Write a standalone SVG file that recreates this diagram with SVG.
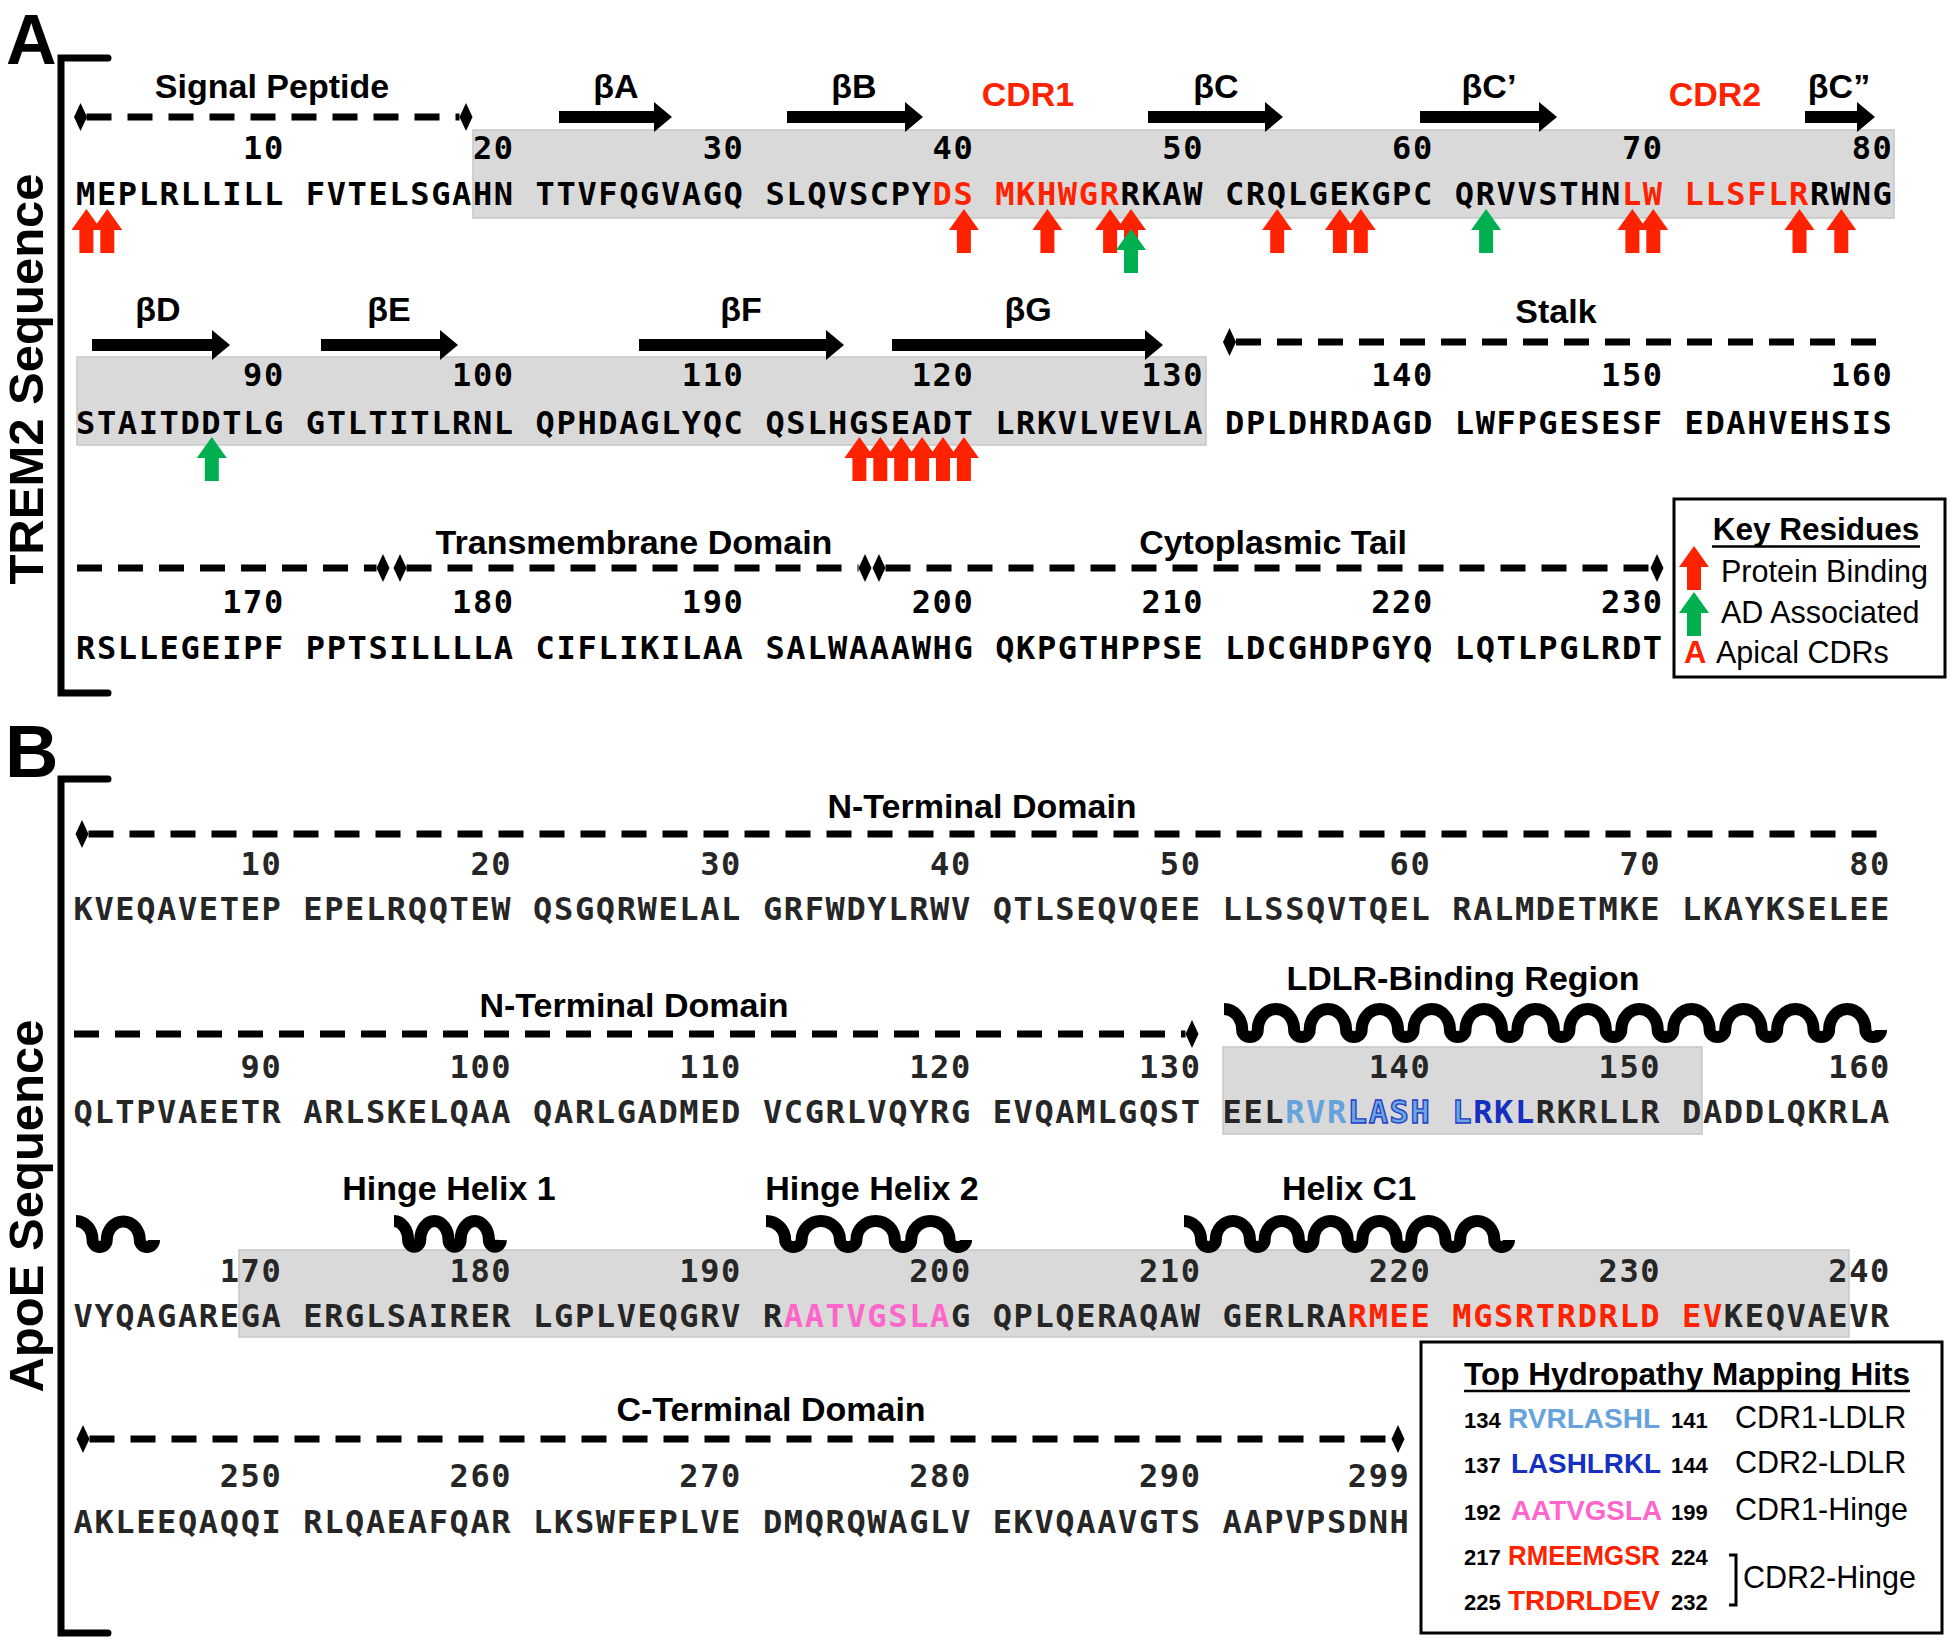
<svg xmlns="http://www.w3.org/2000/svg" xmlns:xlink="http://www.w3.org/1999/xlink" width="1950" height="1642" viewBox="0 0 1950 1642">
<style>
.seq{font-family:'DejaVu Sans Mono',monospace;font-weight:bold;font-size:32px;letter-spacing:1.625px;fill:#000}
.apoe{fill:#262626}
.num{text-anchor:end}
.lbl{font-family:'Liberation Sans',Arial,sans-serif;font-weight:bold;font-size:34px;text-anchor:middle;fill:#000}
.red{fill:#ff2200}
.leg{font-family:'Liberation Sans',Arial,sans-serif;font-size:30.5px;fill:#000}
.hn{font-family:'Liberation Sans',Arial,sans-serif;font-weight:bold;font-size:22px;fill:#000}
.hs{font-family:'Liberation Sans',Arial,sans-serif;font-weight:bold;font-size:28.5px}
.dash{stroke:#000;stroke-width:7;stroke-dasharray:25 16;fill:none}
.wave{fill:none;stroke:#000;stroke-width:12;stroke-linecap:butt;stroke-linejoin:round}
.gbox{fill:#d9d9d9;stroke:#c6c6c6;stroke-width:1.5}
.brk{fill:none;stroke:#000;stroke-width:7;stroke-linecap:round}
.big{font-family:'Liberation Sans',Arial,sans-serif;font-weight:bold}
</style>
<defs>
<path id="up" d="M0,0 L15,21 L7,21 L7,44 L-7,44 L-7,21 L-15,21 Z"/>
<path id="dia" d="M-6.5,0 L0,-14 L6.5,0 L0,14 Z"/>
</defs>
<rect width="1950" height="1642" fill="#fff"/>

<g id="panelA">
<text class="big" x="6" y="64" font-size="70">A</text>
<path class="brk" d="M108,58 L61,58 L61,693 L108,693"/>
<text class="big" font-size="49" text-anchor="middle" transform="translate(43,379) rotate(-90)">TREM2 Sequence</text>

<g id="a-boxes">
<rect class="gbox" x="473" y="130" width="1421" height="88"/>
<rect class="gbox" x="77" y="357" width="1129" height="88"/>
</g>

<g id="a-row1-annot">
<use xlink:href="#dia" x="80.5" y="117"/>
<line class="dash" x1="86.5" y1="117" x2="459.5" y2="117"/>
<use xlink:href="#dia" x="466" y="117"/>
<text class="lbl" x="272" y="98">Signal Peptide</text>
<path d="M559,111 L654,111 L654,102 L672,117 L654,132 L654,123 L559,123 Z"/>
<path d="M787,111 L905,111 L905,102 L923,117 L905,132 L905,123 L787,123 Z"/>
<path d="M1148,111 L1265,111 L1265,102 L1283,117 L1265,132 L1265,123 L1148,123 Z"/>
<path d="M1420,111 L1539,111 L1539,102 L1557,117 L1539,132 L1539,123 L1420,123 Z"/>
<path d="M1805,111 L1857,111 L1857,102 L1875,117 L1857,132 L1857,123 L1805,123 Z"/>
<text class="lbl" x="616" y="98">βA</text>
<text class="lbl" x="854" y="98">βB</text>
<text class="lbl red" x="1028" y="106">CDR1</text>
<text class="lbl" x="1216" y="98">βC</text>
<text class="lbl" x="1489" y="98">βC’</text>
<text class="lbl red" x="1715" y="106">CDR2</text>
<text class="lbl" x="1839" y="98">βC”</text>
</g>

<g id="a-row1-seq">
<text class="seq num" y="159"><tspan x="284.9">10</tspan><tspan x="514.7">20</tspan><tspan x="744.5">30</tspan><tspan x="974.3">40</tspan><tspan x="1204.1">50</tspan><tspan x="1433.9">60</tspan><tspan x="1663.7">70</tspan><tspan x="1893.5">80</tspan></text>
<text class="seq" x="76" y="205">MEPLRLLILL FVTELSGAHN TTVFQGVAGQ SLQVSCPY<tspan class="red">DS MKHWGR</tspan>RKAW CRQLGEKGPC QRVVSTHN<tspan class="red">LW LLSFLR</tspan>RWNG</text>
</g>

<g id="a-row1-arrows" fill="#ff2200">
<use xlink:href="#up" x="86.4" y="209"/>
<use xlink:href="#up" x="107.3" y="209"/>
<use xlink:href="#up" x="963.9" y="209"/>
<use xlink:href="#up" x="1047.4" y="209"/>
<use xlink:href="#up" x="1110.1" y="209"/>
<use xlink:href="#up" x="1131" y="209"/>
<use xlink:href="#up" x="1277.2" y="209"/>
<use xlink:href="#up" x="1339.9" y="209"/>
<use xlink:href="#up" x="1360.8" y="209"/>
<use xlink:href="#up" x="1632.4" y="209"/>
<use xlink:href="#up" x="1653.3" y="209"/>
<use xlink:href="#up" x="1799.5" y="209"/>
<use xlink:href="#up" x="1841.3" y="209"/>
<use xlink:href="#up" x="1131" y="229" fill="#00b050"/>
<use xlink:href="#up" x="1486.1" y="209" fill="#00b050"/>
</g>

<g id="a-row2-annot">
<path d="M92,339 L212,339 L212,330 L230,345 L212,360 L212,351 L92,351 Z"/>
<path d="M321,339 L440,339 L440,330 L458,345 L440,360 L440,351 L321,351 Z"/>
<path d="M639,339 L826,339 L826,330 L844,345 L826,360 L826,351 L639,351 Z"/>
<path d="M892,339 L1145,339 L1145,330 L1163,345 L1145,360 L1145,351 L892,351 Z"/>
<text class="lbl" x="158" y="321">βD</text>
<text class="lbl" x="389" y="321">βE</text>
<text class="lbl" x="741" y="321">βF</text>
<text class="lbl" x="1028" y="321">βG</text>
<use xlink:href="#dia" x="1229.5" y="342"/>
<line class="dash" x1="1236" y1="342" x2="1890" y2="342"/>
<text class="lbl" x="1556" y="323">Stalk</text>
</g>

<g id="a-row2-seq">
<text class="seq num" y="386"><tspan x="284.9">90</tspan><tspan x="514.7">100</tspan><tspan x="744.5">110</tspan><tspan x="974.3">120</tspan><tspan x="1204.1">130</tspan><tspan x="1433.9">140</tspan><tspan x="1663.7">150</tspan><tspan x="1893.5">160</tspan></text>
<text class="seq" x="76" y="434">STAITDDTLG GTLTITLRNL QPHDAGLYQC QSLHGSEADT LRKVLVEVLA DPLDHRDAGD LWFPGESESF EDAHVEHSIS</text>
</g>

<g id="a-row2-arrows" fill="#ff2200">
<use xlink:href="#up" x="211.8" y="437" fill="#00b050"/>
<use xlink:href="#up" x="859.4" y="437"/>
<use xlink:href="#up" x="880.3" y="437"/>
<use xlink:href="#up" x="901.2" y="437"/>
<use xlink:href="#up" x="922.1" y="437"/>
<use xlink:href="#up" x="943" y="437"/>
<use xlink:href="#up" x="963.9" y="437"/>
</g>

<g id="a-row3-annot">
<line class="dash" x1="77" y1="568" x2="376.5" y2="568"/>
<use xlink:href="#dia" x="383" y="568"/>
<use xlink:href="#dia" x="400" y="568"/>
<line class="dash" x1="406.5" y1="568" x2="858.5" y2="568"/>
<use xlink:href="#dia" x="865" y="568"/>
<use xlink:href="#dia" x="879" y="568"/>
<line class="dash" x1="885.5" y1="568" x2="1650.5" y2="568"/>
<use xlink:href="#dia" x="1657" y="568"/>
<text class="lbl" x="634" y="554">Transmembrane Domain</text>
<text class="lbl" x="1273" y="554">Cytoplasmic Tail</text>
</g>

<g id="a-row3-seq">
<text class="seq num" y="613"><tspan x="284.9">170</tspan><tspan x="514.7">180</tspan><tspan x="744.5">190</tspan><tspan x="974.3">200</tspan><tspan x="1204.1">210</tspan><tspan x="1433.9">220</tspan><tspan x="1663.7">230</tspan></text>
<text class="seq" x="76" y="659">RSLLEGEIPF PPTSILLLLA CIFLIKILAA SALWAAAWHG QKPGTHPPSE LDCGHDPGYQ LQTLPGLRDT</text>
</g>

<g id="legend-key">
<rect x="1674" y="499" width="271" height="178" fill="#fff" stroke="#000" stroke-width="3"/>
<text class="big" x="1816" y="540" font-size="31.5" text-anchor="middle">Key Residues</text>
<line x1="1712" y1="546.5" x2="1920" y2="546.5" stroke="#000" stroke-width="2.5"/>
<use xlink:href="#up" x="1694" y="546" fill="#ff2200"/>
<text class="leg" x="1721" y="582">Protein Binding</text>
<use xlink:href="#up" x="1694" y="592" fill="#00b050"/>
<text class="leg" x="1721" y="623">AD Associated</text>
<text class="big" x="1684" y="663" font-size="31" style="fill:#ff2200">A</text>
<text class="leg" x="1716" y="663">Apical CDRs</text>
</g>
</g>

<g id="panelB">
<text class="big" x="5" y="777" font-size="74">B</text>
<path class="brk" d="M108,779 L61,779 L61,1633 L108,1633"/>
<text class="big" font-size="49" text-anchor="middle" transform="translate(43,1206) rotate(-90)">ApoE Sequence</text>

<g id="b-boxes">
<rect class="gbox" x="1223" y="1047" width="479" height="87"/>
<rect class="gbox" x="239" y="1250" width="1610" height="87"/>
</g>

<g id="b-row1">
<use xlink:href="#dia" x="82" y="834"/>
<line class="dash" x1="88.5" y1="834" x2="1890" y2="834"/>
<text class="lbl" x="982" y="818">N-Terminal Domain</text>
<text class="seq apoe num" y="875"><tspan x="282.4">10</tspan><tspan x="512.2">20</tspan><tspan x="742">30</tspan><tspan x="971.8">40</tspan><tspan x="1201.6">50</tspan><tspan x="1431.4">60</tspan><tspan x="1661.2">70</tspan><tspan x="1891">80</tspan></text>
<text class="seq apoe" x="73.5" y="920">KVEQAVETEP EPELRQQTEW QSGQRWELAL GRFWDYLRWV QTLSEQVQEE LLSSQVTQEL RALMDETMKE LKAYKSELEE</text>
</g>

<g id="b-row2">
<line class="dash" x1="74" y1="1034" x2="1185.5" y2="1034"/>
<use xlink:href="#dia" x="1192" y="1034"/>
<text class="lbl" x="634" y="1017">N-Terminal Domain</text>
<text class="lbl" x="1463" y="990">LDLR-Binding Region</text>
<path class="wave" d="M1224,1009 A18.18,21 0 0 1 1242.18,1030 a7.79,7 0 0 0 15.58,0 a18.18,21 0 0 1 36.36,0 a7.79,7 0 0 0 15.58,0 a18.18,21 0 0 1 36.36,0 a7.79,7 0 0 0 15.58,0 a18.18,21 0 0 1 36.36,0 a7.79,7 0 0 0 15.58,0 a18.18,21 0 0 1 36.36,0 a7.79,7 0 0 0 15.58,0 a18.18,21 0 0 1 36.36,0 a7.79,7 0 0 0 15.58,0 a18.18,21 0 0 1 36.36,0 a7.79,7 0 0 0 15.58,0 a18.18,21 0 0 1 36.36,0 a7.79,7 0 0 0 15.58,0 a18.18,21 0 0 1 36.36,0 a7.79,7 0 0 0 15.58,0 a18.18,21 0 0 1 36.36,0 a7.79,7 0 0 0 15.58,0 a18.18,21 0 0 1 36.36,0 a7.79,7 0 0 0 15.58,0 a18.18,21 0 0 1 36.36,0 a7.79,7 0 0 0 15.58,0 a18.18,21 0 0 1 36.36,0 a7.79,7 0 0 0 15.58,0"/>
<text class="seq apoe num" y="1078"><tspan x="282.4">90</tspan><tspan x="512.2">100</tspan><tspan x="742">110</tspan><tspan x="971.8">120</tspan><tspan x="1201.6">130</tspan><tspan x="1431.4">140</tspan><tspan x="1661.2">150</tspan><tspan x="1891">160</tspan></text>
<text class="seq apoe" x="73.5" y="1123">QLTPVAEETR ARLSKELQAA QARLGADMED VCGRLVQYRG EVQAMLGQST EEL<tspan fill="#66a3dd">RVR</tspan><tspan fill="#6aa6e0" stroke="#1f3cc8" stroke-width="1.3">LASH L</tspan><tspan fill="#1530c0">RKL</tspan>RKRLLR DADDLQKRLA</text>
</g>

<g id="b-row3">
<path class="wave" d="M76,1221 A16.55,19 0 0 1 92.55,1240 a7.09,7 0 0 0 14.18,0 a16.55,19 0 0 1 33.09,0 a7.09,7 0 0 0 14.18,0"/>
<path class="wave" d="M394,1221 A14.13,19 0 0 1 408.13,1240 a6.06,7 0 0 0 12.11,0 a14.13,19 0 0 1 28.27,0 a6.06,7 0 0 0 12.11,0 a14.13,19 0 0 1 28.27,0 a6.06,7 0 0 0 12.11,0"/>
<path class="wave" d="M766,1221 A19.18,19 0 0 1 785.18,1240 a8.22,7 0 0 0 16.44,0 a19.18,19 0 0 1 38.36,0 a8.22,7 0 0 0 16.44,0 a19.18,19 0 0 1 38.36,0 a8.22,7 0 0 0 16.44,0 a19.18,19 0 0 1 38.36,0 a8.22,7 0 0 0 16.44,0"/>
<path class="wave" d="M1184,1221 A17.1,19 0 0 1 1201.1,1240 a7.33,7 0 0 0 14.66,0 a17.1,19 0 0 1 34.21,0 a7.33,7 0 0 0 14.66,0 a17.1,19 0 0 1 34.21,0 a7.33,7 0 0 0 14.66,0 a17.1,19 0 0 1 34.21,0 a7.33,7 0 0 0 14.66,0 a17.1,19 0 0 1 34.21,0 a7.33,7 0 0 0 14.66,0 a17.1,19 0 0 1 34.21,0 a7.33,7 0 0 0 14.66,0 a17.1,19 0 0 1 34.21,0 a7.33,7 0 0 0 14.66,0"/>
<text class="lbl" x="449" y="1200">Hinge Helix 1</text>
<text class="lbl" x="872" y="1200">Hinge Helix 2</text>
<text class="lbl" x="1349" y="1200">Helix C1</text>
<text class="seq apoe num" y="1282"><tspan x="282.4">170</tspan><tspan x="512.2">180</tspan><tspan x="742">190</tspan><tspan x="971.8">200</tspan><tspan x="1201.6">210</tspan><tspan x="1431.4">220</tspan><tspan x="1661.2">230</tspan><tspan x="1891">240</tspan></text>
<text class="seq apoe" x="73.5" y="1327">VYQAGAREGA ERGLSAIRER LGPLVEQGRV R<tspan fill="#ff66cc">AATVGSLA</tspan>G QPLQERAQAW GERLRA<tspan fill="#ff2200">RMEE MGSRTRDRLD EV</tspan>KEQVAEVR</text>
</g>

<g id="b-row4">
<use xlink:href="#dia" x="83" y="1439"/>
<line class="dash" x1="89.5" y1="1439" x2="1391.5" y2="1439"/>
<use xlink:href="#dia" x="1398" y="1439"/>
<text class="lbl" x="771" y="1421">C-Terminal Domain</text>
<text class="seq apoe num" y="1487"><tspan x="282.4">250</tspan><tspan x="512.2">260</tspan><tspan x="742">270</tspan><tspan x="971.8">280</tspan><tspan x="1201.6">290</tspan><tspan x="1410.5">299</tspan></text>
<text class="seq apoe" x="73.5" y="1533">AKLEEQAQQI RLQAEAFQAR LKSWFEPLVE DMQRQWAGLV EKVQAAVGTS AAPVPSDNH</text>
</g>

<g id="legend-hydropathy">
<rect x="1421" y="1342" width="521" height="291" fill="#fff" stroke="#000" stroke-width="3"/>
<text class="big" x="1687" y="1385" font-size="31.4" text-anchor="middle" textLength="446" lengthAdjust="spacingAndGlyphs">Top Hydropathy Mapping Hits</text>
<line x1="1464" y1="1391" x2="1910" y2="1391" stroke="#000" stroke-width="2.5"/>
<text class="hn" x="1464" y="1428">134</text><text class="hs" x="1508" y="1428" fill="#66a3dd" textLength="152" lengthAdjust="spacingAndGlyphs">RVRLASHL</text><text class="hn" x="1671" y="1428">141</text><text class="leg" x="1735" y="1428">CDR1-LDLR</text>
<text class="hn" x="1464" y="1473">137</text><text class="hs" x="1511" y="1473" fill="#1530c0" textLength="150" lengthAdjust="spacingAndGlyphs">LASHLRKL</text><text class="hn" x="1671" y="1473">144</text><text class="leg" x="1735" y="1473">CDR2-LDLR</text>
<text class="hn" x="1464" y="1520">192</text><text class="hs" x="1511" y="1520" fill="#ff66cc" textLength="151" lengthAdjust="spacingAndGlyphs">AATVGSLA</text><text class="hn" x="1671" y="1520">199</text><text class="leg" x="1735" y="1520">CDR1-Hinge</text>
<text class="hn" x="1464" y="1565">217</text><text class="hs" x="1508" y="1565" fill="#ff2200" textLength="152" lengthAdjust="spacingAndGlyphs">RMEEMGSR</text><text class="hn" x="1671" y="1565">224</text>
<text class="hn" x="1464" y="1610">225</text><text class="hs" x="1508" y="1610" fill="#ff2200" textLength="152" lengthAdjust="spacingAndGlyphs">TRDRLDEV</text><text class="hn" x="1671" y="1610">232</text>
<path d="M1729,1555 L1736,1555 L1736,1605 L1729,1605" fill="none" stroke="#000" stroke-width="3"/>
<text class="leg" x="1743" y="1588">CDR2-Hinge</text>
</g>
</g>
</svg>
